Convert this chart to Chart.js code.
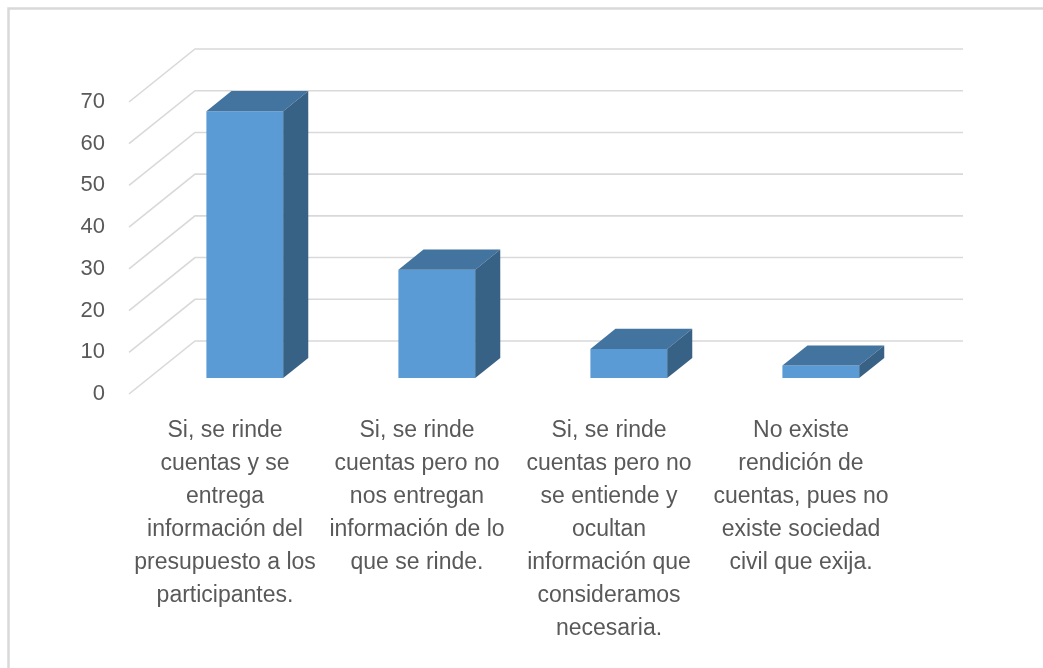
<!DOCTYPE html>
<html>
<head>
<meta charset="utf-8">
<script src="https://cdn.jsdelivr.net/npm/chart.js@4/dist/chart.umd.min.js"></script>
<style>
  html, body { margin: 0; padding: 0; background: #ffffff; }
  #wrap { width: 1043px; height: 668px; }
</style>
</head>
<body>
<div id="wrap"><canvas id="c" width="1043" height="668"></canvas></div>
<script>
// Categories (wrapped as the axis shows them)
const categories = [
  ['Si, se rinde', 'cuentas y se', 'entrega', 'información del', 'presupuesto a los', 'participantes.'],
  ['Si, se rinde', 'cuentas pero no', 'nos entregan', 'información de lo', 'que se rinde.'],
  ['Si, se rinde', 'cuentas pero no', 'se entiende y', 'ocultan', 'información que', 'consideramos', 'necesaria.'],
  ['No existe', 'rendición de', 'cuentas, pues no', 'existe sociedad', 'civil que exija.']
];
// Responses per option
const values = [64, 26, 7, 3];
// Value axis
const yMin = 0;
const yMax = 70;
const yStep = 10;

// Oblique depth of the 3-D floor/wall and of each column
const DEPTH = { dx: 66, dy: -53 };
const BAR_FRONT = 0.30;   // fraction of depth where column front sits
const BAR_BACK = 0.68;    // fraction of depth where column back sits

const FRONT = '#5b9bd5';
const TOP = '#43739f';
const SIDE = '#386186';
const GRID = '#d9d9d9';
const TEXT = '#595959';

const frame = {
  id: 'frame',
  beforeDraw(chart) {
    const ctx = chart.ctx;
    ctx.save();
    ctx.fillStyle = '#ffffff';
    ctx.fillRect(0, 0, chart.width, chart.height);
    ctx.strokeStyle = GRID;
    ctx.lineWidth = 2.5;
    ctx.strokeRect(8.5, 8.5, chart.width + 40, chart.height + 40);
    ctx.restore();
  }
};

const wall3d = {
  id: 'wall3d',
  beforeDatasetsDraw(chart) {
    const ctx = chart.ctx;
    const y = chart.scales.y;
    const area = chart.chartArea;
    ctx.save();
    ctx.strokeStyle = GRID;
    ctx.lineWidth = 1.6;
    y.ticks.forEach(t => {
      const py = y.getPixelForValue(t.value);
      ctx.beginPath();
      ctx.moveTo(area.left, py);
      ctx.lineTo(area.left + DEPTH.dx, py + DEPTH.dy);
      ctx.lineTo(area.right + DEPTH.dx, py + DEPTH.dy);
      ctx.stroke();
    });
    ctx.restore();
    // shift the column fronts into the floor depth
    ctx.save();
    ctx.translate(DEPTH.dx * BAR_FRONT, DEPTH.dy * BAR_FRONT);
  },
  afterDatasetsDraw(chart) {
    const ctx = chart.ctx;
    ctx.restore();
    const ox = DEPTH.dx * BAR_FRONT, oy = DEPTH.dy * BAR_FRONT;
    const bx = DEPTH.dx * (BAR_BACK - BAR_FRONT), by = DEPTH.dy * (BAR_BACK - BAR_FRONT);
    const meta = chart.getDatasetMeta(0);
    ctx.save();
    meta.data.forEach(el => {
      const p = el.getProps(['x', 'y', 'base', 'width'], true);
      const L = p.x - p.width / 2 + ox, R = p.x + p.width / 2 + ox;
      const T = p.y + oy, B = p.base + oy;
      // top face
      ctx.fillStyle = TOP;
      ctx.beginPath();
      ctx.moveTo(L, T); ctx.lineTo(R, T);
      ctx.lineTo(R + bx, T + by); ctx.lineTo(L + bx, T + by);
      ctx.closePath(); ctx.fill();
      // side face
      ctx.fillStyle = SIDE;
      ctx.beginPath();
      ctx.moveTo(R, T); ctx.lineTo(R + bx, T + by);
      ctx.lineTo(R + bx, B + by); ctx.lineTo(R, B);
      ctx.closePath(); ctx.fill();
    });
    ctx.restore();
  }
};

new Chart(document.getElementById('c'), {
  type: 'bar',
  data: {
    labels: categories,
    datasets: [{
      data: values,
      backgroundColor: FRONT,
      borderWidth: 0,
      categoryPercentage: 1.0,
      barPercentage: 0.4,
      clip: false
    }]
  },
  options: {
    responsive: false,
    devicePixelRatio: 1,
    animation: false,
    events: [],
    layout: { padding: { top: 102, right: 146, left: 0, bottom: 0 } },
    plugins: { legend: { display: false }, tooltip: { enabled: false } },
    scales: {
      x: {
        grid: { display: false, drawTicks: false },
        border: { display: false },
        ticks: {
          color: TEXT,
          maxRotation: 0,
          autoSkip: false,
          padding: 20,
          font: { family: "'Liberation Sans', Arial, sans-serif", size: 23, lineHeight: 1.435 }
        },
        afterFit(scale) { scale.height = 274; }
      },
      y: {
        min: yMin,
        max: yMax,
        grid: { display: false, drawTicks: false },
        border: { display: false },
        ticks: {
          stepSize: yStep,
          color: TEXT,
          padding: 24,
          font: { family: "'Liberation Sans', Arial, sans-serif", size: 22 }
        },
        afterFit(scale) { scale.width = 129; }
      }
    }
  },
  plugins: [frame, wall3d]
});
</script>
</body>
</html>
